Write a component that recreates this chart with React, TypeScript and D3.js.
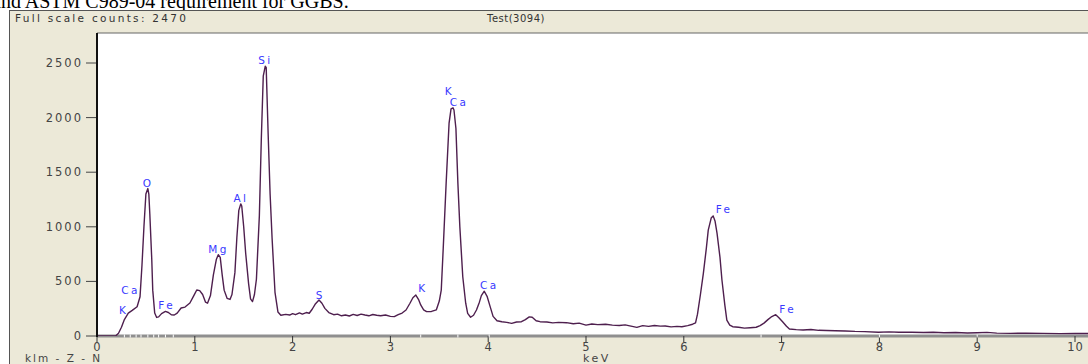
import { useEffect, useRef } from 'react';
import * as d3 from 'd3';

// spectrum: energy (keV) and counts
const energy = [
  0.0, 0.1, 0.19, 0.22, 0.25, 0.28, 0.32, 0.36, 0.41, 0.44, 0.46, 0.48, 0.5, 0.52, 0.53, 0.54, 0.56, 0.57, 0.59,
  0.61, 0.63, 0.66, 0.7, 0.73, 0.76, 0.79, 0.82, 0.86, 0.9, 0.95, 0.99, 1.02, 1.05, 1.08, 1.11, 1.13, 1.16, 1.19,
  1.22, 1.24, 1.26, 1.28, 1.3, 1.33, 1.36, 1.38, 1.41, 1.43, 1.45, 1.47, 1.48, 1.5, 1.52, 1.55, 1.57, 1.59, 1.61,
  1.63, 1.66, 1.68, 1.7, 1.72, 1.73, 1.75, 1.77, 1.79, 1.82, 1.85, 1.88, 1.93, 1.97, 2.0, 2.03, 2.07, 2.1, 2.14,
  2.17, 2.2, 2.23, 2.27, 2.3, 2.33, 2.37, 2.42, 2.46, 2.5, 2.54, 2.58, 2.62, 2.66, 2.7, 2.74, 2.78, 2.82, 2.86,
  2.9, 2.95, 3.0, 3.04, 3.08, 3.12, 3.16, 3.2, 3.23, 3.26, 3.29, 3.31, 3.34, 3.37, 3.42, 3.47, 3.5, 3.52, 3.54,
  3.57, 3.6, 3.62, 3.64, 3.65, 3.67, 3.69, 3.71, 3.74, 3.77, 3.79, 3.82, 3.85, 3.88, 3.91, 3.93, 3.96, 3.99, 4.02,
  4.05, 4.09, 4.14, 4.19, 4.24, 4.29, 4.34, 4.38, 4.42, 4.45, 4.49, 4.53, 4.6, 4.66, 4.72, 4.8, 4.87, 4.93, 5.0,
  5.06, 5.12, 5.2, 5.27, 5.34, 5.4, 5.46, 5.52, 5.58, 5.64, 5.7, 5.76, 5.81, 5.87, 5.93, 5.98, 6.04, 6.09, 6.12,
  6.14, 6.17, 6.2, 6.23, 6.25, 6.28, 6.3, 6.32, 6.34, 6.37, 6.39, 6.42, 6.44, 6.47, 6.5, 6.56, 6.62, 6.68, 6.74,
  6.78, 6.82, 6.86, 6.9, 6.94, 6.97, 7.01, 7.05, 7.08, 7.15, 7.22, 7.3, 7.38, 7.46, 7.55, 7.65, 7.75, 7.85, 7.99,
  8.1, 8.2, 8.33, 8.45, 8.55, 8.66, 8.78, 8.9, 9.0, 9.1, 9.2, 9.34, 9.5, 9.67, 9.85, 10.0, 10.15
];
const counts = [
  0, 0, 0, 25, 80, 150, 210, 235, 268, 360, 650, 1000, 1300, 1350, 1300, 1120, 700, 420, 210,
  170, 175, 205, 225, 215, 195, 192, 210, 256, 265, 302, 370, 421, 415, 380, 310, 300, 370, 560,
  700, 745, 720, 560, 420, 345, 335, 380, 580, 900, 1150, 1210, 1190, 1000, 760, 480, 340, 315, 380,
  520, 1100, 1800, 2380, 2470, 2460, 1850, 1300, 900, 400, 220, 190, 198, 192, 205, 195, 212, 200, 215,
  208, 245, 290, 330, 300, 253, 215, 195, 200, 185, 192, 183, 198, 188, 200, 192, 185, 197, 190,
  186, 192, 180, 177, 195, 210, 238, 300, 350, 375, 330, 284, 240, 223, 225, 240, 320, 421, 800,
  1400, 1950, 2080, 2090, 2070, 1900, 1400, 1000, 543, 300, 207, 172, 190, 238, 310, 370, 410, 360, 269,
  180, 140, 130, 125, 116, 128, 131, 150, 175, 172, 140, 131, 128, 120, 125, 122, 112, 118, 100,
  110, 104, 108, 100, 96, 102, 90, 79, 95, 88, 96, 90, 92, 84, 88, 85, 95, 108, 120,
  200, 380, 574, 800, 970, 1080, 1100, 1050, 940, 720, 513, 280, 146, 100, 85, 80, 72, 76, 80,
  95, 118, 150, 178, 195, 170, 131, 90, 64, 58, 55, 60, 52, 50, 48, 46, 42, 40, 34,
  38, 34, 34, 32, 35, 30, 32, 28, 30, 33, 26, 24, 26, 24, 22, 24, 22
];

const yTicks = [0, 500, 1000, 1500, 2000, 2500];
const xTicks = [0, 1, 2, 3, 4, 5, 6, 7, 8, 9, 10];

// element labels: name, energy and count of the label baseline
const peakNames = ['K', 'Ca', 'O', 'Fe', 'Mg', 'Al', 'Si', 'S', 'K', 'K', 'Ca', 'Ca', 'Fe', 'Fe'];
const peakEnergy = [0.26, 0.33, 0.51, 0.7, 1.23, 1.46, 1.71, 2.27, 3.32, 3.59, 3.69, 4.0, 6.4, 7.05];
const peakCounts = [201, 385, 1364, 244, 757, 1224, 2491, 342, 400, 2207, 2106, 430, 1124, 208];

// KLM marker positions on the energy axis
const markerEnergy = [0.28, 0.34, 0.4, 0.45, 0.52, 0.58, 0.63, 0.7, 0.78, 3.31, 3.69, 4.01, 6.79, 8.0, 9.0];

const EdsSpectrum = (): JSX.Element => {
  const svgRef = useRef<SVGSVGElement>(null);
  const width = 1088;
  const height = 364;

  useEffect(() => {
    if (svgRef.current) {
      svgRef.current.innerHTML = '';
    }
    const panelLeft = 9.5;
    const panelTop = 10.5;
    const plotLeft = 97;
    const plotTop = 33;
    const plotBottom = 336;

    const x = d3.scaleLinear([0, 10], [97, 1075]);
    const y = d3.scaleLinear([0, 2500], [plotBottom, 63]);

    const svg = d3.select(svgRef.current).attr('width', width).attr('height', height);
    const font = '"DejaVu Sans", Verdana, sans-serif';

    // caption line from the page, cut off at the top
    svg
      .append('text')
      .attr('x', -8)
      .attr('y', 8)
      .attr('font-family', '"Liberation Serif", "Times New Roman", serif')
      .attr('font-size', 20)
      .attr('fill', '#000')
      .text('and ASTM C989-04 requirement for GGBS.');

    // beige window
    svg
      .append('rect')
      .attr('x', panelLeft)
      .attr('y', panelTop)
      .attr('width', width)
      .attr('height', height)
      .attr('fill', '#ece9d8')
      .attr('stroke', '#555')
      .attr('stroke-width', 1);

    svg
      .append('text')
      .attr('x', 15)
      .attr('y', 22)
      .attr('font-family', font)
      .attr('font-size', 10.5)
      .style('letter-spacing', '2.3px')
      .attr('fill', '#333')
      .text('Full scale counts: 2470');

    svg
      .append('text')
      .attr('x', 487)
      .attr('y', 22)
      .attr('font-family', font)
      .attr('font-size', 10)
      .style('letter-spacing', '0.5px')
      .attr('fill', '#333')
      .text('Test(3094)');

    // plot area
    svg
      .append('rect')
      .attr('x', plotLeft)
      .attr('y', plotTop)
      .attr('width', width - plotLeft)
      .attr('height', plotBottom - plotTop)
      .attr('fill', '#fff');
    svg
      .append('line')
      .attr('x1', plotLeft)
      .attr('x2', width)
      .attr('y1', plotTop)
      .attr('y2', plotTop)
      .attr('stroke', '#666')
      .attr('stroke-width', 1);

    // y axis
    const yAxis = svg.append('g');
    yAxis
      .selectAll('line')
      .data(yTicks)
      .join('line')
      .attr('x1', 86)
      .attr('x2', plotLeft)
      .attr('y1', (d) => y(d))
      .attr('y2', (d) => y(d))
      .attr('stroke', '#444')
      .attr('stroke-width', 1);
    yAxis
      .selectAll('text')
      .data(yTicks)
      .join('text')
      .attr('x', 83)
      .attr('y', (d) => y(d))
      .attr('dy', '0.35em')
      .attr('text-anchor', 'end')
      .attr('font-family', font)
      .attr('font-size', 11.5)
      .style('letter-spacing', '2px')
      .attr('fill', '#444')
      .text((d) => String(d));

    // x axis
    const xAxis = svg.append('g');
    xAxis
      .append('line')
      .attr('x1', plotLeft)
      .attr('x2', width)
      .attr('y1', plotBottom)
      .attr('y2', plotBottom)
      .attr('stroke', '#8f8f8f')
      .attr('stroke-width', 3);
    xAxis
      .selectAll('line.tick')
      .data(xTicks)
      .join('line')
      .attr('class', 'tick')
      .attr('x1', (d) => x(d))
      .attr('x2', (d) => x(d))
      .attr('y1', plotBottom)
      .attr('y2', plotBottom + 6)
      .attr('stroke', '#333')
      .attr('stroke-width', 1);
    xAxis
      .selectAll('line.marker')
      .data(markerEnergy)
      .join('line')
      .attr('class', 'marker')
      .attr('x1', (d) => x(d))
      .attr('x2', (d) => x(d))
      .attr('y1', plotBottom - 1.5)
      .attr('y2', plotBottom + 1.5)
      .attr('stroke', '#fff')
      .attr('stroke-width', 1);
    xAxis
      .selectAll('text')
      .data(xTicks)
      .join('text')
      .attr('x', (d) => x(d))
      .attr('y', 351)
      .attr('dx', 0.5)
      .attr('text-anchor', 'middle')
      .attr('font-family', font)
      .attr('font-size', 11.5)
      .style('letter-spacing', '1px')
      .attr('fill', '#444')
      .text((d) => String(d));

    svg
      .append('text')
      .attr('x', x(5) - 3)
      .attr('y', 362)
      .attr('font-family', font)
      .attr('font-size', 11)
      .style('letter-spacing', '2.5px')
      .attr('fill', '#444')
      .text('keV');
    svg
      .append('text')
      .attr('x', 25)
      .attr('y', 362)
      .attr('font-family', font)
      .attr('font-size', 10.5)
      .style('letter-spacing', '2px')
      .attr('fill', '#444')
      .text('klm - Z - N');

    // spectrum
    const line = d3
      .line<number>()
      .x((d) => x(d))
      .y((_, i) => y(counts[i]));

    svg
      .append('clipPath')
      .attr('id', 'plot-clip')
      .append('rect')
      .attr('x', plotLeft)
      .attr('y', plotTop)
      .attr('width', width - plotLeft)
      .attr('height', plotBottom - plotTop);

    svg
      .append('path')
      .attr('clip-path', 'url(#plot-clip)')
      .attr('fill', 'none')
      .attr('stroke', '#4e1f4e')
      .attr('stroke-width', 1.4)
      .attr('stroke-linejoin', 'round')
      .attr('d', line(energy));

    // y axis line drawn over the spectrum
    svg
      .append('line')
      .attr('x1', plotLeft)
      .attr('x2', plotLeft)
      .attr('y1', plotTop)
      .attr('y2', plotBottom + 1)
      .attr('stroke', '#111')
      .attr('stroke-width', 2);

    // element labels
    svg
      .append('g')
      .selectAll('text')
      .data(peakNames)
      .join('text')
      .attr('x', (_, i) => x(peakEnergy[i]))
      .attr('y', (_, i) => y(peakCounts[i]))
      .attr('dx', 1.2)
      .attr('text-anchor', 'middle')
      .attr('font-family', font)
      .attr('font-size', 10.5)
      .style('letter-spacing', '2.4px')
      .attr('fill', '#3a3aff')
      .text((d) => d);
  }, []);

  return (
    <svg
      ref={svgRef}
      width={width}
      height={height}
      style={{ position: 'absolute', left: 0, top: 0, display: 'block', background: '#fff' }}
    />
  );
};

export default function App() {
  return <EdsSpectrum />;
}
